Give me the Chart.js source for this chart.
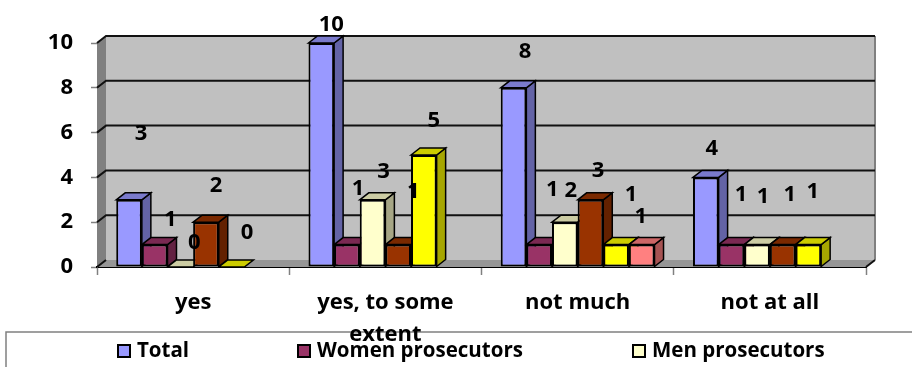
<!DOCTYPE html>
<html>
<head>
<meta charset="utf-8">
<style>
  html, body { margin: 0; padding: 0; background: #fff; }
  #wrap { width: 912px; height: 367px; }
</style>
<script src="https://cdn.jsdelivr.net/npm/chart.js@4/dist/chart.umd.min.js"></script>
</head>
<body>
<div id="wrap"><canvas id="chart" width="912" height="367"></canvas></div>
<script>
const categories = ['yes', ['yes, to some', 'extent'], 'not much', 'not at all'];
const yTicks = [0, 2, 4, 6, 8, 10];

const total = [3, 10, 8, 4];
const women = [1, 1, 1, 1];
const men = [0, 3, 2, 1];
const series4 = [2, 1, 3, 1];
const series5 = [0, 5, 1, 1];
const series6 = [null, null, 1, null];

const seriesColors = ['#9999FF', '#993366', '#FFFFCC', '#993300', '#FFFF00', '#FF8080'];

// the value labels were moved by hand in the original, so [dx, dy] from each bar's top
const labelOffsets = [
  [[12, -66], [10, -18], [11.5, -36], [6, -29]],
  [[15.5, -25], [11, -56], [13, -55], [9.5, -50]],
  [[14, -24], [11, -28], [6, -31], [6, -48]],
  [[10, -36], [15, -53], [7.5, -29], [7, -50]],
  [[15.5, -34], [10, -34], [15, -50], [4.5, -53]],
  [null, null, [-1, -28], null]
];

const legendItems = [
  { name: 'Total', color: 0, x: 117 },
  { name: 'Women prosecutors', color: 1, x: 297 },
  { name: 'Men prosecutors', color: 2, x: 632 }
];

const fontFamily = '"Open Sans", sans-serif';
const depthX = 9;
const depthY = 7;

function shade(hex, k) {
  const n = parseInt(hex.slice(1), 16);
  const r = Math.round((n >> 16) * k);
  const g = Math.round(((n >> 8) & 255) * k);
  const b = Math.round((n & 255) * k);
  return `rgb(${r},${g},${b})`;
}

function poly(ctx, pts, fill, stroke, lw) {
  ctx.beginPath();
  pts.forEach((p, i) => (i ? ctx.lineTo(p[0], p[1]) : ctx.moveTo(p[0], p[1])));
  ctx.closePath();
  if (fill) {
    ctx.fillStyle = fill;
    ctx.fill();
  }
  if (stroke) {
    ctx.strokeStyle = stroke;
    ctx.lineWidth = lw;
    ctx.stroke();
  }
}

// walls, floor and gridlines of the fake 3d box
const box3d = {
  id: 'box3d',
  beforeDatasetsDraw(chart) {
    const ctx = chart.ctx;
    const a = chart.chartArea;
    const y = chart.scales.y;
    const dx = depthX, dy = depthY;

    poly(ctx, [[a.left + dx, a.top - dy], [a.right + dx, a.top - dy], [a.right + dx, a.bottom - dy], [a.left + dx, a.bottom - dy]], '#C0C0C0');
    poly(ctx, [[a.left, a.top], [a.left + dx, a.top - dy], [a.left + dx, a.bottom - dy], [a.left, a.bottom]], '#808080');
    poly(ctx, [[a.left, a.bottom], [a.left + dx, a.bottom - dy], [a.right + dx, a.bottom - dy], [a.right, a.bottom]], '#969696');

    ctx.strokeStyle = '#808080';
    ctx.lineWidth = 2;
    ctx.beginPath();
    ctx.moveTo(a.right + dx, a.top - dy);
    ctx.lineTo(a.right + dx, a.bottom - dy);
    ctx.stroke();

    ctx.strokeStyle = '#111';
    ctx.lineWidth = 2;
    yTicks.forEach(v => {
      if (v === 0) return;
      const py = y.getPixelForValue(v);
      ctx.beginPath();
      ctx.moveTo(a.left, py);
      ctx.lineTo(a.left + dx, py - dy);
      ctx.lineTo(a.right + dx, py - dy);
      ctx.stroke();
    });
    ctx.beginPath();
    ctx.moveTo(a.left, a.bottom);
    ctx.lineTo(a.left + dx, a.bottom - dy);
    ctx.moveTo(a.right, a.bottom);
    ctx.lineTo(a.right + dx, a.bottom - dy);
    ctx.stroke();

    // sides and tops, left to right, the fronts come from chart.js afterwards
    categories.forEach((c, i) => {
      chart.data.datasets.forEach((ds, d) => {
        if (ds.data[i] === null) return;
        const bar = chart.getDatasetMeta(d).data[i];
        const l = bar.x - bar.width / 2, r = bar.x + bar.width / 2;
        const t = bar.y, b = bar.base;
        const col = seriesColors[d];
        if (b - t > 0) {
          poly(ctx, [[r, t], [r + dx, t - dy], [r + dx, b - dy], [r, b]], shade(col, 0.65), '#000', 1.5);
        }
        poly(ctx, [[l, t], [l + dx, t - dy], [r + dx, t - dy], [r, t]], shade(col, 0.8), '#000', 1.5);
      });
    });
  },
  afterDatasetsDraw(chart) {
    const ctx = chart.ctx;
    ctx.fillStyle = '#000';
    ctx.font = 'bold 22px ' + fontFamily;
    ctx.textAlign = 'center';
    ctx.textBaseline = 'middle';
    chart.data.datasets.forEach((ds, d) => {
      ds.data.forEach((v, i) => {
        if (v === null) return;
        const bar = chart.getDatasetMeta(d).data[i];
        const off = labelOffsets[d][i];
        ctx.fillText(String(v), bar.x + off[0], bar.y + off[1]);
      });
    });
  }
};

// the legend frame runs off the picture, the built-in legend can't do that
const legendFrame = {
  id: 'legendFrame',
  beforeDraw(chart) {
    const ctx = chart.ctx;
    ctx.strokeStyle = '#808080';
    ctx.lineWidth = 1.5;
    ctx.beginPath();
    ctx.moveTo(6, chart.height);
    ctx.lineTo(6, 332);
    ctx.lineTo(chart.width, 332);
    ctx.stroke();
  },
  afterDraw(chart) {
    const ctx = chart.ctx;
    ctx.font = 'bold 20.5px ' + fontFamily;
    ctx.textAlign = 'left';
    ctx.textBaseline = 'middle';
    legendItems.forEach(item => {
      poly(ctx, [[item.x + 1, 345], [item.x + 13, 345], [item.x + 13, 357], [item.x + 1, 357]], seriesColors[item.color], '#000', 2);
      ctx.fillStyle = '#000';
      ctx.fillText(item.name, item.x + 20, 351);
    });
  }
};

const seriesData = [total, women, men, series4, series5, series6];
const seriesNames = ['Total', 'Women prosecutors', 'Men prosecutors', 'Series 4', 'Series 5', 'Series 6'];

new Chart(document.getElementById('chart').getContext('2d'), {
  type: 'bar',
  data: {
    labels: categories,
    datasets: seriesData.map((vals, i) => ({
      label: seriesNames[i],
      data: vals,
      backgroundColor: seriesColors[i],
      borderColor: '#000',
      borderWidth: 2,
      borderSkipped: false,
      barPercentage: 1,
      categoryPercentage: 0.8
    }))
  },
  options: {
    responsive: false,
    animation: false,
    layout: { padding: { top: 43, right: 46, left: 0, bottom: 0 } },
    plugins: { legend: { display: false }, tooltip: { enabled: false } },
    scales: {
      x: {
        afterFit(scale) { scale.height = 100; },
        grid: { drawOnChartArea: false, color: '#808080', tickLength: 8, tickWidth: 1.5 },
        border: { color: '#000', width: 2 },
        ticks: {
          autoSkip: false,
          maxRotation: 0,
          padding: 12,
          color: '#000',
          font: { family: fontFamily, size: 22, weight: 'bold', lineHeight: 1.45 }
        }
      },
      y: {
        min: 0,
        max: 10,
        afterFit(scale) { scale.width = 97; },
        grid: { drawOnChartArea: false, color: '#808080', tickLength: 6, tickWidth: 1.5 },
        border: { color: '#808080', width: 1 },
        ticks: {
          stepSize: 2,
          padding: 18,
          color: '#000',
          font: { family: fontFamily, size: 22, weight: 'bold' }
        }
      }
    }
  },
  plugins: [box3d, legendFrame]
});
</script>
</body>
</html>
